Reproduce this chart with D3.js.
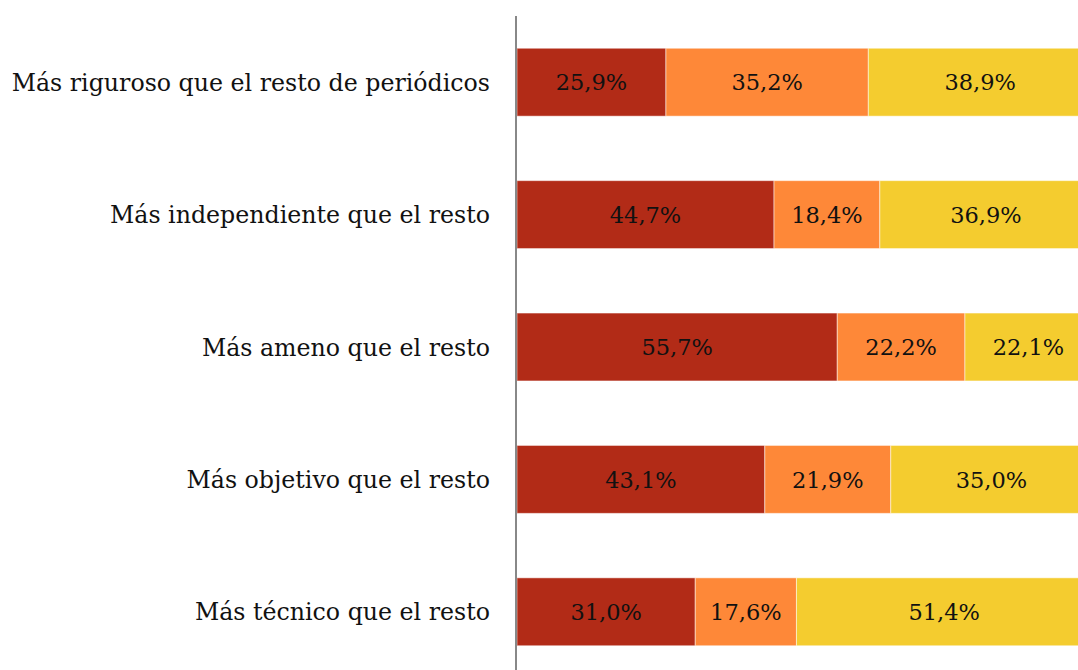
<!DOCTYPE html>
<html>
<head>
<meta charset="utf-8">
<script src="https://cdn.jsdelivr.net/npm/d3@7"></script>
<style>
  body { margin: 0; background: #fff; }
  text { font-family: "DejaVu Serif", serif; fill: #111; }
</style>
</head>
<body>
<svg id="chart"></svg>
<script>
var categories = [
  "Más riguroso que el resto de periódicos",
  "Más independiente que el resto",
  "Más ameno que el resto",
  "Más objetivo que el resto",
  "Más técnico que el resto"
];
var serie1 = [25.9, 44.7, 55.7, 43.1, 31.0];
var serie2 = [35.2, 18.4, 22.2, 21.9, 17.6];
var serie3 = [38.9, 36.9, 22.1, 35.0, 51.4];
var colors = ["#b22b17", "#fe8838", "#f4cc2f"];

var width = 1078, height = 670;
var svg = d3.select("#chart").attr("width", width).attr("height", height);

var x = d3.scaleLinear().domain([0, 100]).range([517, 1092]);
var y = d3.scaleBand()
  .domain(categories)
  .range([16, 678])
  .paddingInner(0.487)
  .paddingOuter(0.2435);

var rows = categories.map(function (c, i) {
  return { cat: c, v: [serie1[i], serie2[i], serie3[i]] };
});

var g = svg.append("g");

rows.forEach(function (r) {
  var start = 0;
  r.v.forEach(function (v, k) {
    g.append("rect")
      .attr("x", x(start))
      .attr("y", y(r.cat))
      .attr("width", x(start + v) - x(start))
      .attr("height", y.bandwidth())
      .attr("fill", colors[k])
      .attr("stroke", "#fff")
      .attr("stroke-opacity", 0.5)
      .attr("stroke-width", 1);
    g.append("text")
      .attr("x", (x(start) + x(start + v)) / 2)
      .attr("y", y(r.cat) + y.bandwidth() / 2)
      .attr("text-anchor", "middle")
      .attr("dy", "0.36em")
      .style("font-size", "22.5px")
      .text(v.toFixed(1).replace(".", ",") + "%");
    start += v;
  });
});

// category labels
svg.append("g")
  .selectAll("text")
  .data(categories)
  .enter()
  .append("text")
  .attr("x", 490)
  .attr("y", function (d) { return y(d) + y.bandwidth() / 2; })
  .attr("dy", "0.36em")
  .attr("text-anchor", "end")
  .style("font-size", "23.7px")
  .text(function (d) { return d; });

// vertical axis line
svg.append("line")
  .attr("x1", 516).attr("x2", 516)
  .attr("y1", 16).attr("y2", 678)
  .attr("stroke", "#888")
  .attr("stroke-width", 2);
</script>
</body>
</html>
